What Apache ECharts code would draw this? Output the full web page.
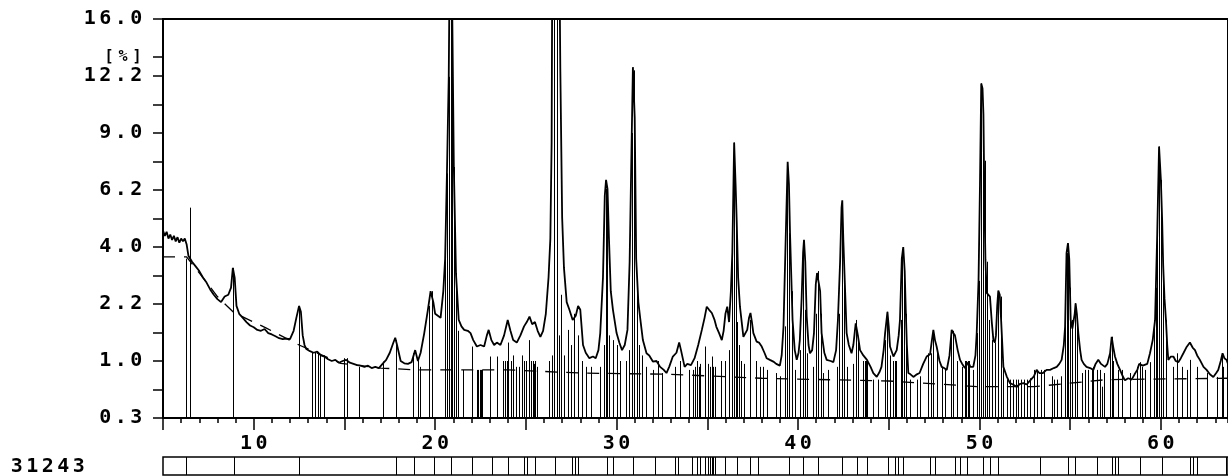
<!DOCTYPE html>
<html><head><meta charset="utf-8">
<script src="https://cdn.jsdelivr.net/npm/echarts@6.0.0/dist/echarts.min.js"></script>
<style>html,body{margin:0;padding:0;background:#fff}#c{width:1228px;height:476px}</style>
</head><body><div id="c"></div>
<script>
// ---- axis ranges & tick labels ----
const xMin = 5, xMax = 63.7;
const xLabelValues = [10, 20, 30, 40, 50, 60];
const xMajorTicks = [5, 10, 15, 20, 25, 30, 35, 40, 45, 50, 55, 60];
const yTickLabels = ['0.3', '1.0', '2.2', '4.0', '6.2', '9.0', '12.2', '16.0']; // at sqrt 0.5,1.0,...,4.0
const yUnitLabel = '[%]';
const yUnitPos = 3.667; // sqrt-scale position of the unit label
const sampleName = '31243';

// ---- measured scan: 2theta (deg), intensity (%) ----
const traceDeg = [5.0,5.1,5.2,5.3,5.4,5.5,5.6,5.7,5.8,5.9,6.0,6.1,6.2,6.3,6.4,6.5,6.6,6.8,7.0,7.1,7.2,7.4,7.5,7.6,7.8,8.0,8.2,8.4,8.6,8.75,8.85,8.95,9.05,9.2,9.4,9.6,9.8,10.0,10.2,10.4,10.6,10.8,11.0,11.2,11.4,11.6,11.8,12.0,12.2,12.35,12.5,12.6,12.7,12.8,12.9,13.1,13.3,13.5,13.7,13.9,14.1,14.3,14.5,14.7,14.9,15.1,15.3,15.5,15.7,15.9,16.1,16.3,16.5,16.7,16.9,17.1,17.3,17.5,17.7,17.8,17.9,18.1,18.3,18.5,18.7,18.9,19.05,19.2,19.4,19.6,19.75,19.9,20.0,20.15,20.3,20.45,20.55,20.65,20.75,20.85,20.95,21.03,21.15,21.3,21.45,21.6,21.8,21.95,22.1,22.3,22.5,22.7,22.85,22.95,23.1,23.25,23.4,23.6,23.8,24.0,24.15,24.3,24.5,24.7,24.9,25.05,25.2,25.35,25.5,25.65,25.8,25.95,26.1,26.25,26.35,26.42,26.5,26.75,26.9,27.0,27.1,27.25,27.4,27.58,27.75,27.88,28.0,28.15,28.3,28.5,28.7,28.85,29.0,29.1,29.25,29.35,29.42,29.5,29.58,29.68,29.8,30.0,30.15,30.3,30.45,30.6,30.72,30.82,30.9,31.0,31.08,31.2,31.3,31.45,31.65,31.8,32.0,32.2,32.4,32.6,32.75,32.9,33.1,33.3,33.45,33.55,33.75,33.9,34.1,34.3,34.5,34.7,34.85,34.97,35.1,35.25,35.4,35.5,35.65,35.8,35.9,36.0,36.1,36.2,36.3,36.38,36.48,36.56,36.62,36.7,36.8,36.99,37.1,37.2,37.3,37.38,37.46,37.54,37.72,37.85,38.0,38.15,38.27,38.45,38.64,38.8,39.0,39.1,39.2,39.32,39.43,39.5,39.56,39.7,39.82,39.93,40.03,40.1,40.2,40.28,40.33,40.4,40.48,40.58,40.66,40.78,40.88,40.98,41.05,41.16,41.22,41.3,41.45,41.58,41.8,41.95,42.1,42.2,42.32,42.4,42.44,42.5,42.57,42.68,42.8,42.95,43.05,43.18,43.3,43.42,43.6,43.8,44.0,44.15,44.34,44.5,44.6,44.72,44.8,44.93,45.0,45.07,45.26,45.44,45.55,45.62,45.72,45.8,45.88,45.94,46.0,46.08,46.2,46.36,46.55,46.7,46.9,47.09,47.28,47.38,47.46,47.55,47.64,47.8,47.92,48.05,48.2,48.35,48.47,48.56,48.65,48.8,48.93,49.05,49.2,49.39,49.5,49.66,49.78,49.85,49.95,50.03,50.1,50.17,50.22,50.28,50.33,50.4,50.5,50.58,50.68,50.77,50.85,50.91,50.98,51.04,51.12,51.2,51.32,51.5,51.68,51.85,52.05,52.25,52.42,52.6,52.8,53.0,53.15,53.3,53.5,53.7,53.89,54.1,54.26,54.4,54.53,54.65,54.72,54.8,54.88,54.95,55.03,55.12,55.18,55.25,55.3,55.37,55.45,55.55,55.63,55.75,55.9,56.1,56.28,56.4,56.55,56.7,56.92,57.05,57.2,57.29,57.38,57.47,57.6,57.75,57.9,58.02,58.2,58.39,58.55,58.7,58.8,58.9,59.0,59.1,59.25,59.4,59.55,59.68,59.8,59.9,60.0,60.07,60.13,60.2,60.28,60.35,60.41,60.55,60.69,60.82,60.96,61.1,61.24,61.4,61.6,61.75,61.88,62.0,62.15,62.35,62.52,62.7,62.89,63.05,63.16,63.3,63.4,63.5,63.62,63.7];
const traceInt = [4.6,4.4,4.55,4.3,4.45,4.25,4.4,4.2,4.35,4.15,4.3,4.2,4.3,4.1,3.7,3.6,3.5,3.35,3.2,3.25,3.0,2.85,2.9,2.65,2.5,2.38,2.3,2.45,2.5,2.7,3.3,3.0,2.2,2.0,1.9,1.8,1.72,1.68,1.62,1.6,1.64,1.55,1.52,1.48,1.44,1.42,1.43,1.42,1.6,1.9,2.2,2.05,1.5,1.3,1.22,1.18,1.15,1.17,1.1,1.08,1.03,1.0,1.02,0.97,1.0,1.02,0.97,0.95,0.93,0.92,0.9,0.92,0.88,0.9,0.88,0.95,1.02,1.15,1.35,1.45,1.3,1.0,0.96,0.95,0.98,1.2,1.0,1.15,1.55,2.1,2.6,2.3,2.0,1.95,1.9,2.6,3.6,7.0,12.2,30,30,7.3,3.1,1.85,1.7,1.62,1.6,1.55,1.4,1.27,1.3,1.27,1.5,1.62,1.4,1.3,1.35,1.3,1.5,1.85,1.6,1.4,1.35,1.5,1.7,1.8,1.93,1.75,1.8,1.6,1.47,1.6,2.0,3.0,4.3,8.5,40,40,12.6,5.1,3.3,2.3,2.1,1.85,1.95,2.2,2.1,1.3,1.15,1.05,1.08,1.05,1.2,1.55,3.0,6.0,6.7,6.3,4.3,2.6,2.1,1.55,1.35,1.2,1.3,1.62,3.5,8.0,12.8,9.8,3.6,2.3,1.9,1.4,1.14,1.1,0.99,1.0,0.9,0.85,0.8,0.9,1.08,1.15,1.35,1.2,0.9,0.95,0.93,1.05,1.3,1.62,1.9,2.18,2.1,2.02,1.85,1.69,1.55,1.4,1.6,2.0,2.18,1.8,2.6,3.8,8.5,6.5,5.0,3.0,2.18,1.47,1.5,1.62,1.9,2.02,1.8,1.55,1.37,1.35,1.27,1.15,1.05,1.02,0.99,0.95,0.92,1.1,1.69,4.26,7.55,6.5,4.5,1.85,1.2,1.02,1.15,1.4,2.4,3.8,4.26,3.5,1.93,1.3,1.14,1.2,1.55,2.8,3.14,3.2,2.6,1.55,1.15,1.02,1.0,0.98,1.2,1.85,3.5,5.5,5.81,4.2,3.0,1.55,1.3,1.14,1.3,1.77,1.5,1.2,1.1,1.02,0.9,0.8,0.74,0.82,0.9,1.2,1.55,2.05,1.7,1.27,1.08,1.2,1.5,1.85,3.6,4.0,3.2,2.09,1.3,0.8,0.78,0.74,0.78,0.8,0.95,1.08,1.12,1.4,1.62,1.4,1.27,1.0,0.9,0.88,0.85,1.1,1.62,1.55,1.5,1.2,1.02,0.95,0.88,0.98,0.9,0.9,1.1,1.55,2.9,6.5,11.8,11.5,10.0,5.5,3.56,2.55,2.5,2.45,1.8,1.4,1.35,1.5,2.2,2.62,2.5,1.8,0.9,0.75,0.65,0.63,0.6,0.64,0.65,0.63,0.69,0.75,0.85,0.8,0.8,0.85,0.85,0.88,0.9,0.95,1.02,1.3,1.69,3.79,4.14,3.6,1.85,1.65,1.62,2.0,2.27,2.0,1.55,1.2,1.02,0.95,0.9,0.88,0.85,0.95,1.02,0.95,0.9,0.95,1.14,1.47,1.25,1.08,0.95,0.85,0.75,0.69,0.72,0.7,0.78,0.85,0.95,0.98,0.92,0.9,0.95,1.14,1.4,1.85,4.5,8.3,6.7,5.0,3.34,2.4,1.85,1.3,1.02,1.08,1.08,1.0,0.98,1.05,1.14,1.25,1.35,1.25,1.2,1.1,1.02,0.9,0.85,0.78,0.74,0.8,0.85,1.0,1.14,1.05,1.02,0.95];

// ---- fitted background (dashed) ----
const bgDeg = [5.0,6.3,6.4,7.2,8.0,8.9,10.7,12.5,14.8,17.0,19.0,24.0,28.0,33.0,38.0,45.0,50.0,53.0,57.0,63.7];
const bgInt = [3.66,3.66,3.6,3.0,2.45,2.03,1.66,1.3,0.96,0.88,0.85,0.85,0.8,0.78,0.72,0.68,0.6,0.6,0.7,0.72];

// ---- reference pattern sticks: 2theta, intensity (%) ----
const stickDeg = [6.28,6.47,8.86,12.5,13.24,13.39,13.54,13.67,13.9,14.95,15.14,15.78,17.15,17.84,18.8,19.03,19.18,19.67,19.82,20.55,20.65,20.74,20.87,20.95,21.05,21.16,21.25,21.53,22.02,22.3,22.38,22.45,22.52,22.57,23.0,23.4,23.75,23.85,23.97,24.04,24.2,24.3,24.45,24.6,24.8,24.9,25.0,25.2,25.3,25.38,25.45,25.52,25.6,26.3,26.45,26.55,26.7,26.85,26.95,27.1,27.3,27.5,27.65,27.9,28.1,28.3,28.6,29.1,29.3,29.4,29.47,29.6,29.8,30.0,30.2,30.5,30.7,30.85,30.95,31.1,31.25,31.4,31.6,32.0,32.3,32.5,33.2,33.5,34.0,34.2,34.3,34.42,34.52,34.6,34.88,35.06,35.15,35.24,35.34,35.43,35.75,35.98,36.2,36.38,36.49,36.58,36.65,36.75,36.85,37.0,37.35,37.67,37.9,38.05,38.3,38.79,39.0,39.3,39.38,39.49,39.65,39.84,40.1,40.26,40.39,40.52,40.85,40.99,41.12,41.25,41.4,41.68,42.13,42.28,42.41,42.53,42.68,43.05,43.18,43.32,43.6,43.68,43.75,43.8,44.15,44.4,44.8,44.93,45.07,45.25,45.32,45.4,45.66,45.75,45.86,45.94,46.17,46.55,46.72,47.18,47.31,47.46,47.64,47.92,48.1,48.41,48.56,48.75,49.02,49.2,49.27,49.35,49.45,49.66,49.88,49.99,50.09,50.21,50.31,50.4,50.55,50.68,50.86,51.0,51.17,51.32,51.5,51.7,51.85,52.0,52.15,52.3,52.45,52.6,52.8,52.98,53.2,53.4,53.55,53.98,54.1,54.3,54.5,54.72,54.8,54.9,54.99,55.08,55.27,55.36,55.63,55.82,56.0,56.2,56.28,56.46,56.65,56.74,56.84,57.2,57.29,57.38,57.65,57.84,58.3,58.66,58.85,58.94,59.12,59.4,59.62,59.73,59.8,59.9,60.0,60.13,60.28,60.69,60.87,61.15,61.42,61.6,61.97,62.52,63.08,63.35,63.45];
const stickInt = [3.6,5.5,3.3,2.2,1.15,1.15,1.15,1.1,1.1,1.05,1.05,0.9,0.99,1.4,1.14,1.0,0.9,2.2,2.6,3.56,7.0,12.2,30,30,7.3,3.14,1.6,0.85,1.27,0.85,0.85,0.85,0.85,0.85,1.08,1.08,1.0,1.0,1.0,1.35,1.0,1.1,0.9,0.9,1.1,1.0,1.0,1.4,1.0,1.0,0.95,1.0,0.9,1.0,1.1,40,40,1.5,2.5,1.1,1.62,1.3,2.0,1.5,1.0,0.9,0.9,0.9,1.3,6.3,6.0,1.5,1.4,1.3,1.0,1.0,1.2,9.0,12.6,3.0,1.3,1.1,0.9,0.85,1.0,0.8,0.9,1.0,0.85,0.85,0.9,1.0,0.9,0.95,1.27,0.95,0.9,1.08,0.9,0.9,1.0,1.0,1.2,3.8,8.5,5.5,1.8,1.3,1.0,0.95,1.85,1.0,0.9,0.9,0.85,0.8,0.75,1.7,7.5,4.5,2.6,0.85,1.2,4.2,2.1,1.14,0.9,2.0,3.2,2.0,0.8,0.85,0.9,2.0,5.5,3.1,0.9,0.95,1.85,1.4,1.0,1.0,1.0,1.0,0.7,0.7,1.4,2.05,1.1,1.0,1.0,1.0,1.85,3.9,3.1,2.0,0.7,0.7,0.75,1.14,1.14,1.6,1.2,0.9,0.85,1.55,1.6,1.0,0.9,1.0,1.0,1.0,1.0,0.85,1.55,2.9,11.8,10.0,7.6,3.5,1.85,1.4,1.35,2.5,2.45,0.9,0.7,0.7,0.7,0.7,0.7,0.7,0.7,0.7,0.72,0.85,0.85,0.85,0.85,0.75,0.7,0.7,0.75,1.69,3.79,4.1,2.7,1.85,2.27,1.69,0.8,0.85,0.85,0.85,0.9,0.85,0.85,0.6,0.8,1.14,1.47,1.0,0.85,0.85,0.8,0.9,0.98,0.9,0.85,0.98,1.85,2.7,4.5,8.3,6.7,3.3,1.85,0.9,1.14,0.9,0.85,1.02,0.9,0.8,0.74,1.14,0.9];

// ---- reference card strip (box dividers), 2theta ----
const boxDeg = [6.28,8.89,12.51,17.84,18.81,19.91,20.9,22.02,23.16,24.04,24.87,25.09,25.51,26.61,27.53,27.72,27.9,29.46,29.83,30.93,32.12,33.23,33.41,34.15,34.42,34.6,34.88,35.06,35.15,35.24,35.34,35.43,35.98,36.62,37.36,37.82,39.5,40.29,41.12,42.41,43.23,43.78,44.98,45.35,45.53,45.81,47.28,47.55,48.65,48.93,49.3,50.21,50.58,51.04,53.34,54.9,55.27,56.46,57.32,57.47,57.65,58.84,60.04,61.6,61.78,61.97,63.59];

// ---- build ----
const FONT = 'DejaVu Sans Mono';
const richChar = {
  c: { width: 15.5, align: 'center', fontFamily: FONT, fontWeight: 'bold', fontSize: 20, lineHeight: 20, color: '#000' },
  u: { width: 14, align: 'center', fontFamily: FONT, fontWeight: 'bold', fontSize: 15, lineHeight: 16, color: '#000' }
};
function spaced(s, k) { k = k || 'c'; return s.split('').map(ch => '{' + k + '|' + ch + '}').join(''); }
const sq = v => Math.min(Math.sqrt(v), 4.05);

const traceData = traceDeg.map((d, i) => [d, Math.sqrt(traceInt[i])]);
const bgData = bgDeg.map((d, i) => [d, Math.sqrt(bgInt[i])]);
const stickData = stickDeg.map((d, i) => [d, sq(stickInt[i])]);
const boxData = boxDeg.map(d => [d, 0]);

const yLabelPos = yTickLabels.map((_, i) => 0.5 * (i + 1));
const yTickPos = [];
for (let v = 0.5; v <= 4.001; v += 0.25) { if (Math.abs(v - 3.75) > 0.01) yTickPos.push(+v.toFixed(2)); }
yTickPos.push(yUnitPos);

const textBase = { fontFamily: FONT, fontWeight: 'bold', fontSize: 20, color: '#000' };

function vline(lw, isBox) {
  return (params, api) => {
    const p0 = api.coord([api.value(0), isBox ? 0 : 0.5]);
    const p1 = api.coord([api.value(0), isBox ? 1 : api.value(1)]);
    const x = Math.round(p0[0]) + 0.5;
    return { type: 'line', shape: { x1: x, y1: p0[1], x2: x, y2: p1[1] }, style: { stroke: '#000', lineWidth: lw } };
  };
}

const chart = echarts.init(document.getElementById('c'), null, { renderer: 'canvas' });
chart.setOption({
  animation: false,
  backgroundColor: '#fff',
  title: { text: spaced(sampleName), left: 4, top: 452, textStyle: Object.assign({ rich: richChar }, textBase) },
  grid: [
    { left: 163, right: -2, top: 19, height: 399, show: true, borderColor: '#000', borderWidth: 2, backgroundColor: 'transparent' },
    { left: 163, right: -2, top: 457, height: 18, show: true, borderColor: '#000', borderWidth: 1.5, backgroundColor: 'transparent' }
  ],
  xAxis: [
    { type: 'value', gridIndex: 0, min: xMin, max: xMax, interval: 1, position: 'bottom',
      axisLine: { onZero: false, lineStyle: { color: '#000', width: 1.5 } },
      axisTick: { show: true, length: 5, lineStyle: { color: '#000', width: 1.5 } },
      axisLabel: { show: false }, splitLine: { show: false } },
    { type: 'value', gridIndex: 0, min: xMin, max: xMax, interval: 5, position: 'bottom',
      axisLine: { show: false, onZero: false },
      axisTick: { show: true, length: 12, customValues: xMajorTicks, lineStyle: { color: '#000', width: 1.5 } },
      axisLabel: Object.assign({ show: true, customValues: xLabelValues, margin: 16, formatter: v => spaced(String(v)), rich: richChar }, textBase),
      splitLine: { show: false } },
    { type: 'value', gridIndex: 1, min: xMin, max: xMax, show: false }
  ],
  yAxis: [
    { type: 'value', gridIndex: 0, min: 0.5, max: 4,
      axisLine: { show: true, onZero: false, lineStyle: { color: '#000', width: 1.5 } },
      axisTick: { show: true, length: 10, customValues: yTickPos, lineStyle: { color: '#000', width: 1.5 } },
      axisLabel: Object.assign({ show: true, margin: 19, customValues: yLabelPos.concat([yUnitPos]),
        formatter: v => Math.abs(v - yUnitPos) < 0.01 ? spaced(yUnitLabel, 'u') : spaced(yTickLabels[Math.round(v / 0.5) - 1]),
        rich: richChar }, textBase),
      splitLine: { show: false } },
    { type: 'value', gridIndex: 1, min: 0, max: 1, show: false }
  ],
  series: [
    { type: 'custom', xAxisIndex: 0, yAxisIndex: 0, data: stickData, clip: true, silent: true, renderItem: vline(1, false) },
    { type: 'line', xAxisIndex: 0, yAxisIndex: 0, data: bgData, showSymbol: false, clip: true, silent: true,
      lineStyle: { color: '#000', width: 1.3, type: [12, 9] } },
    { type: 'line', xAxisIndex: 0, yAxisIndex: 0, data: traceData, showSymbol: false, clip: true, silent: true,
      lineStyle: { color: '#000', width: 1.8 } },
    { type: 'custom', xAxisIndex: 2, yAxisIndex: 1, data: boxData, silent: true, renderItem: vline(1, true) }
  ]
});
</script></body></html>
